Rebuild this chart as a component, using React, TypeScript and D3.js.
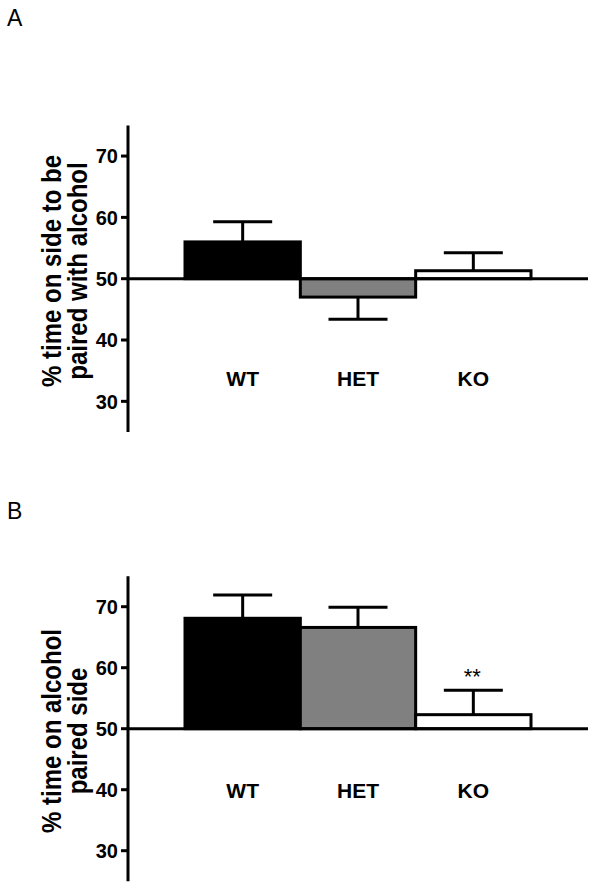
import React from "react";
import * as d3 from "d3";

const categories = ["WT", "HET", "KO"];
const panelAValues = [56.0, 47.0, 51.3];
const panelAErrors = [3.3, 3.6, 2.95];
const panelBValues = [68.1, 66.6, 52.3];
const panelBErrors = [3.8, 3.3, 4.0];
const barColors = ["#000000", "#808080", "#ffffff"];
const yTicks = [30, 40, 50, 60, 70];
const yDomain: [number, number] = [25, 75];
const baselineValue = 50;
const panelALabel = ["% time on side to be", "paired with alcohol"];
const panelBLabel = ["% time on alcohol", "paired side"];

const FONT = "Liberation Sans, Arial, sans-serif";

type PanelProps = {
  letter: string;
  letterY: number;
  values: number[];
  errors: number[];
  yRange: [number, number];
  labelLines: string[];
  labelCenter: number;
  catLabelY: number;
  stars?: string[];
};

function Panel({ letter, letterY, values, errors, yRange, labelLines, labelCenter, catLabelY, stars }: PanelProps) {
  const axisX = 128;
  const y = d3.scaleLinear().domain(yDomain).range(yRange);
  const x = d3.scaleBand<string>().domain(categories).range([185, 531]).padding(0);
  const bw = x.bandwidth();
  const capHalf = 29.5;
  const baselines = [61, 87];
  return (
    <g>
      <text x={7} y={letterY} fontFamily={FONT} fontSize={23} fill="#000">{letter}</text>
      {/* y-axis label */}
      {labelLines.map((line, k) => (
        <g key={k} transform={`translate(${baselines[k]}, ${labelCenter}) rotate(-90) scale(1, 1.15)`}>
          <text x={0} y={0} textAnchor="middle" fontFamily={FONT} fontWeight="bold" fontSize={24}>{line}</text>
        </g>
      ))}
      {/* bars */}
      {categories.map((c, i) => {
        const v = values[i];
        const top = Math.min(y(v), y(baselineValue));
        const h = Math.abs(y(v) - y(baselineValue));
        const cx = (x(c) as number) + bw / 2;
        const dir = v >= baselineValue ? 1 : -1;
        const ey = y(v + dir * errors[i]);
        return (
          <g key={c}>
            <line x1={cx} x2={cx} y1={y(v)} y2={ey} stroke="#000" strokeWidth={3} />
            <line x1={cx - capHalf} x2={cx + capHalf} y1={ey} y2={ey} stroke="#000" strokeWidth={3} />
            <rect x={x(c) as number} y={top} width={bw} height={h} fill={barColors[i]} stroke="#000" strokeWidth={3} />
            <text x={cx} y={catLabelY} textAnchor="middle" fontFamily={FONT} fontWeight="bold" fontSize={21}>{c}</text>
            {stars && stars[i] ? (
              <text x={cx - 1} y={ey - 6} textAnchor="middle" fontFamily={FONT} fontSize={22}>{stars[i]}</text>
            ) : null}
          </g>
        );
      })}
      {/* baseline */}
      <line x1={axisX} x2={588} y1={y(baselineValue)} y2={y(baselineValue)} stroke="#000" strokeWidth={3} />
      {/* axis */}
      <line x1={axisX} x2={axisX} y1={yRange[1]} y2={yRange[0]} stroke="#000" strokeWidth={3} />
      {yTicks.map((t) => (
        <g key={t}>
          <line x1={axisX - 7} x2={axisX} y1={y(t)} y2={y(t)} stroke="#000" strokeWidth={3} />
          <text x={axisX - 10} y={y(t)} dy="0.36em" textAnchor="end" fontFamily={FONT} fontWeight="bold" fontSize={20}>{t}</text>
        </g>
      ))}
    </g>
  );
}

export default function App() {
  return (
    <svg width={600} height={896} style={{ position: "absolute", left: 0, top: 0, background: "#fff" }}>
      <rect x={0} y={0} width={600} height={896} fill="#fff" />
      <Panel
        letter="A"
        letterY={26}
        values={panelAValues}
        errors={panelAErrors}
        yRange={[432, 125.4]}
        labelLines={panelALabel}
        labelCenter={271}
        catLabelY={386}
      />
      <Panel
        letter="B"
        letterY={519}
        values={panelBValues}
        errors={panelBErrors}
        yRange={[881.2, 576.2]}
        labelLines={panelBLabel}
        labelCenter={731}
        catLabelY={798}
        stars={["", "", "**"]}
      />
    </svg>
  );
}
